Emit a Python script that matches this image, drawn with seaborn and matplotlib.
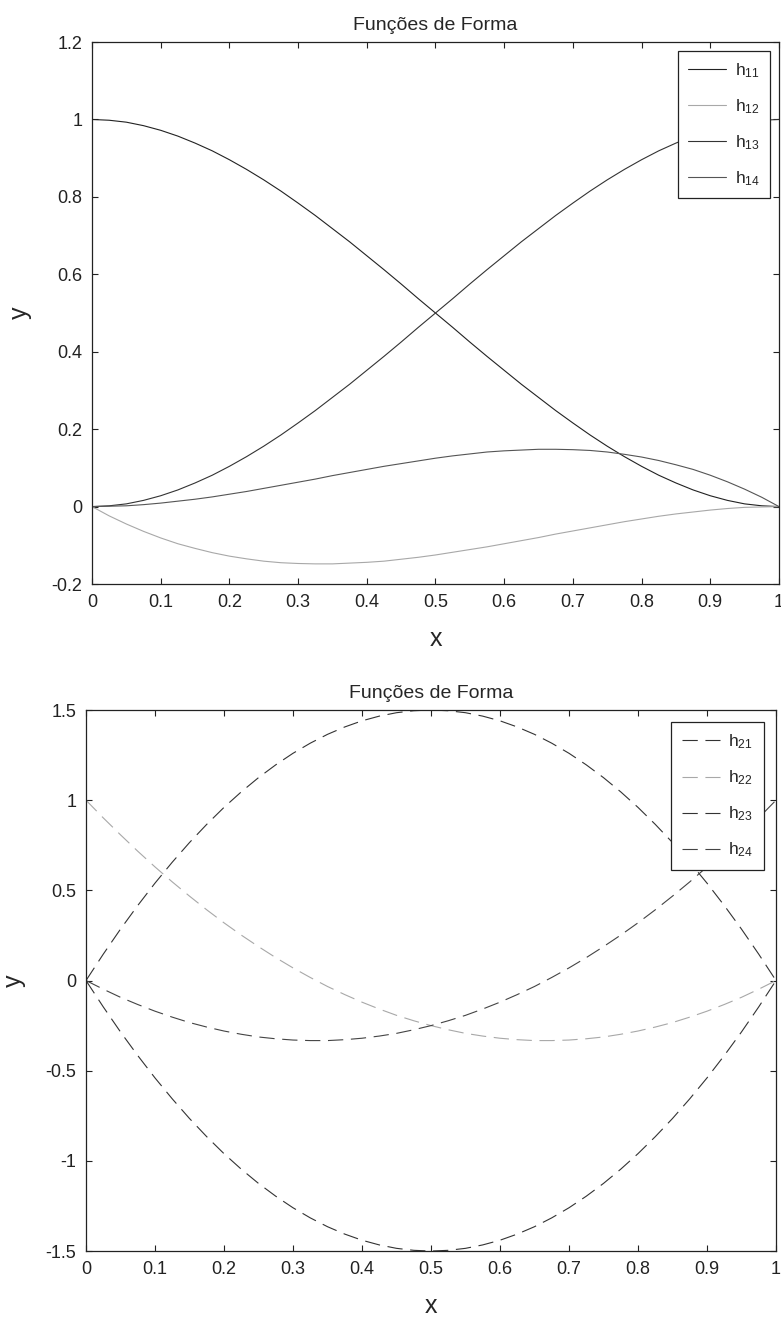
import numpy as np
import pandas as pd
import matplotlib
matplotlib.use('Agg')
import matplotlib.pyplot as plt
from matplotlib.ticker import FuncFormatter, MultipleLocator
import seaborn as sns

# x sample points, values at 0.025 steps
x = [0.0, 0.025, 0.05, 0.075, 0.1, 0.125, 0.15, 0.175, 0.2, 0.225, 0.25,
     0.275, 0.3, 0.325, 0.35, 0.375, 0.4, 0.425, 0.45, 0.475, 0.5,
     0.525, 0.55, 0.575, 0.6, 0.625, 0.65, 0.675, 0.7, 0.725, 0.75,
     0.775, 0.8, 0.825, 0.85, 0.875, 0.9, 0.925, 0.95, 0.975, 1.0]

# top panel
h11 = [1.0, 0.998, 0.993, 0.984, 0.972, 0.957, 0.939, 0.919, 0.896, 0.871, 0.844,
       0.815, 0.784, 0.752, 0.718, 0.684, 0.648, 0.612, 0.575, 0.537, 0.5,
       0.463, 0.425, 0.388, 0.352, 0.316, 0.282, 0.248, 0.216, 0.185, 0.156,
       0.129, 0.104, 0.081, 0.061, 0.043, 0.028, 0.016, 0.007, 0.002, 0.0]
h12 = [0.0, -0.024, -0.045, -0.064, -0.081, -0.096, -0.108, -0.119, -0.128, -0.135, -0.141,
       -0.145, -0.147, -0.148, -0.148, -0.146, -0.144, -0.141, -0.136, -0.131, -0.125,
       -0.118, -0.111, -0.104, -0.096, -0.088, -0.080, -0.071, -0.063, -0.055, -0.047,
       -0.039, -0.032, -0.025, -0.019, -0.014, -0.009, -0.005, -0.002, -0.001, 0.0]
h13 = [0.0, 0.002, 0.007, 0.016, 0.028, 0.043, 0.061, 0.081, 0.104, 0.129, 0.156,
       0.185, 0.216, 0.248, 0.282, 0.316, 0.352, 0.388, 0.425, 0.463, 0.5,
       0.537, 0.575, 0.612, 0.648, 0.684, 0.718, 0.752, 0.784, 0.815, 0.844,
       0.871, 0.896, 0.919, 0.939, 0.957, 0.972, 0.984, 0.993, 0.998, 1.0]
h14 = [0.0, 0.001, 0.002, 0.005, 0.009, 0.014, 0.019, 0.025, 0.032, 0.039, 0.047,
       0.055, 0.063, 0.071, 0.080, 0.088, 0.096, 0.104, 0.111, 0.118, 0.125,
       0.131, 0.136, 0.141, 0.144, 0.146, 0.148, 0.148, 0.147, 0.145, 0.141,
       0.135, 0.128, 0.119, 0.108, 0.096, 0.081, 0.064, 0.045, 0.024, 0.0]

# bottom panel
h21 = [0.0, -0.146, -0.285, -0.416, -0.54, -0.656, -0.765, -0.866, -0.96, -1.046, -1.125,
       -1.196, -1.26, -1.316, -1.365, -1.406, -1.44, -1.466, -1.485, -1.496, -1.5,
       -1.496, -1.485, -1.466, -1.44, -1.406, -1.365, -1.316, -1.26, -1.196, -1.125,
       -1.046, -0.96, -0.866, -0.765, -0.656, -0.54, -0.416, -0.285, -0.146, 0.0]
h22 = [1.0, 0.902, 0.808, 0.717, 0.63, 0.547, 0.468, 0.392, 0.32, 0.252, 0.188,
       0.127, 0.07, 0.017, -0.033, -0.078, -0.12, -0.158, -0.193, -0.223, -0.25,
       -0.273, -0.293, -0.308, -0.32, -0.328, -0.333, -0.333, -0.33, -0.323, -0.313,
       -0.298, -0.28, -0.258, -0.233, -0.203, -0.17, -0.133, -0.093, -0.048, 0.0]
h23 = [0.0, 0.146, 0.285, 0.416, 0.54, 0.656, 0.765, 0.866, 0.96, 1.046, 1.125,
       1.196, 1.26, 1.316, 1.365, 1.406, 1.44, 1.466, 1.485, 1.496, 1.5,
       1.496, 1.485, 1.466, 1.44, 1.406, 1.365, 1.316, 1.26, 1.196, 1.125,
       1.046, 0.96, 0.866, 0.765, 0.656, 0.54, 0.416, 0.285, 0.146, 0.0]
h24 = [0.0, -0.048, -0.093, -0.133, -0.17, -0.203, -0.233, -0.258, -0.28, -0.298, -0.313,
       -0.323, -0.33, -0.333, -0.333, -0.328, -0.32, -0.308, -0.293, -0.273, -0.25,
       -0.223, -0.193, -0.158, -0.12, -0.078, -0.033, 0.017, 0.07, 0.127, 0.188,
       0.252, 0.32, 0.392, 0.468, 0.547, 0.63, 0.717, 0.808, 0.902, 1.0]

top_labels = ['$h_{11}$', '$h_{12}$', '$h_{13}$', '$h_{14}$']
bot_labels = ['$h_{21}$', '$h_{22}$', '$h_{23}$', '$h_{24}$']
top_colors = ['#222222', '#a8a8a8', '#333333', '#555555']
bot_colors = ['#333333', '#a8a8a8', '#333333', '#444444']

sns.set_style('ticks')
plt.rcParams['font.family'] = ['Liberation Sans', 'DejaVu Sans']
plt.rcParams['mathtext.default'] = 'regular'
plt.rcParams['axes.unicode_minus'] = False
plt.rcParams['lines.scale_dashes'] = False

fig = plt.figure(figsize=(7.81, 13.18), dpi=100)
ax1 = fig.add_axes([0.1178, 0.5569, 0.8796, 0.4112])
ax2 = fig.add_axes([0.1101, 0.0508, 0.8835, 0.4105])

for vals, lab, col in zip([h11, h12, h13, h14], top_labels, top_colors):
    sns.lineplot(x=x, y=vals, ax=ax1, color=col, lw=0.8, label=lab)

for vals, lab, col in zip([h21, h22, h23, h24], bot_labels, bot_colors):
    sns.lineplot(x=x, y=vals, ax=ax2, color=col, lw=0.8, label=lab,
                 linestyle=(0, (11, 5.5)))

fmt = FuncFormatter(lambda v, p: '%g' % round(v, 6))
for ax, ylim, ystep, bpad in [(ax1, (-0.2, 1.2), 0.2, 0.5), (ax2, (-1.5, 1.5), 0.5, 0.7)]:
    ax.set_xlim(0, 1)
    ax.set_ylim(*ylim)
    ax.xaxis.set_major_locator(MultipleLocator(0.1))
    ax.yaxis.set_major_locator(MultipleLocator(ystep))
    ax.xaxis.set_major_formatter(fmt)
    ax.yaxis.set_major_formatter(fmt)
    ax.tick_params(direction='in', length=4, width=0.8, top=True, right=True,
                   labelsize=13, pad=7, colors='#222222')
    for s in ax.spines.values():
        s.set_linewidth(0.9)
        s.set_color('#222222')
    ax.set_title('Funções de Forma', fontsize=14, pad=9)
    ax.set_xlabel('x', fontsize=18, labelpad=12)
    ax.set_ylabel('y', fontsize=18, labelpad=14)
    leg = ax.legend(loc='upper right', fontsize=12.5, frameon=True, fancybox=False,
                    edgecolor='#222222', framealpha=1, handlelength=2.2,
                    labelspacing=1.0, borderaxespad=bpad, handletextpad=0.5,
                    borderpad=0.6)
    leg.get_frame().set_linewidth(0.9)

fig.savefig('out.png', dpi=100)
